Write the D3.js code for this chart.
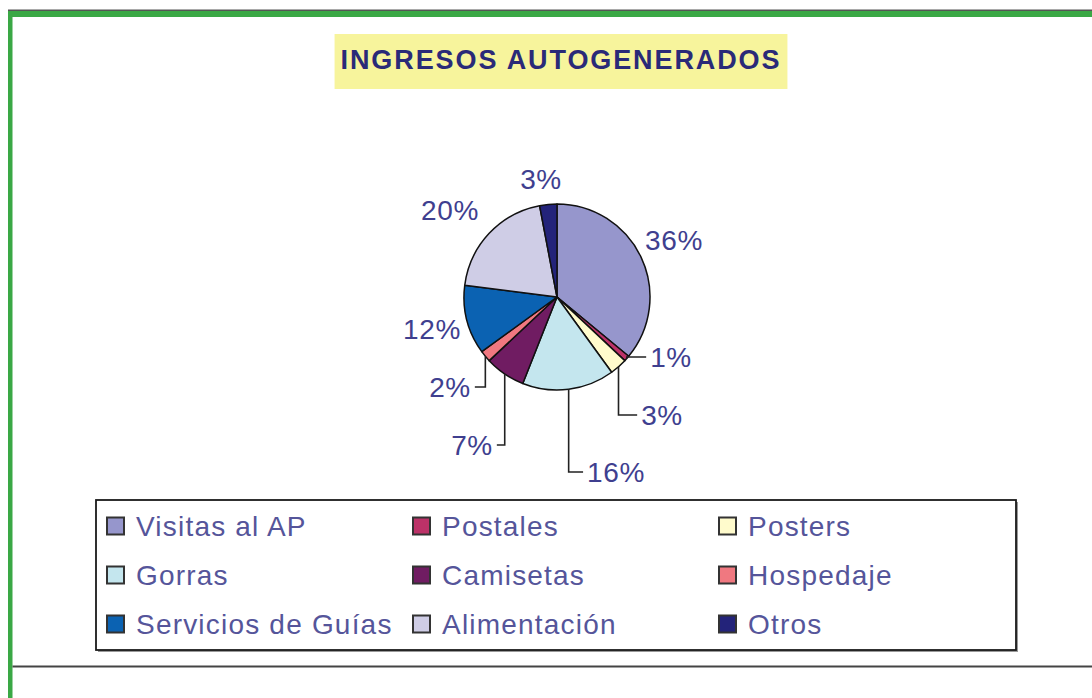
<!DOCTYPE html>
<html>
<head>
<meta charset="utf-8">
<script src="https://cdn.jsdelivr.net/npm/d3@7/dist/d3.min.js"></script>
<style>
  html, body { margin: 0; padding: 0; background: #fff; }
  svg { display: block; font-family: Arial, 'Liberation Sans', sans-serif; }
</style>
</head>
<body>
<div id="chart"></div>
<script>
var categories = ['Visitas al AP', 'Postales', 'Posters', 'Gorras', 'Camisetas',
  'Hospedaje', 'Servicios de Guías', 'Alimentación', 'Otros']
var shares = [36, 1, 3, 16, 7, 2, 12, 20, 3]
var colors = ['#9696cc', '#bc3268', '#fffbcc', '#c4e6ee', '#701c62',
  '#f07880', '#0b62b2', '#cfcde6', '#23237a']
var title = 'INGRESOS AUTOGENERADOS'

// where Excel left the labels, relative to the pie centre (dragged by hand)
var labelSpots = {
  'Visitas al AP': [117, -57],
  'Postales': [114, 60],
  'Posters': [105, 118],
  'Gorras': [59, 175],
  'Camisetas': [-85, 148],
  'Hospedaje': [-107, 90],
  'Servicios de Guías': [-125, 32],
  'Alimentación': [-107, -87],
  'Otros': [-16, -118]
}
var withLeader = ['Postales', 'Posters', 'Gorras', 'Camisetas', 'Hospedaje']

var width = 1092
var height = 698
var cx = 557
var cy = 297
var radius = 93
var green = '#3aa845'

init()

function init() {
  var svg = d3.select('#chart').append('svg')
    .attr('width', width)
    .attr('height', height)

  drawFrame(svg)
  drawTitle(svg)
  drawPie(svg)
  drawLegend(svg)
}

function drawFrame(svg) {
  svg.append('rect')
    .attr('x', 8).attr('y', 9.5)
    .attr('width', width - 8).attr('height', 1.5)
    .attr('fill', '#555')
  svg.append('rect')
    .attr('x', 8).attr('y', 11)
    .attr('width', width - 8).attr('height', 6)
    .attr('fill', green)
  svg.append('rect')
    .attr('x', 8).attr('y', 11)
    .attr('width', 4.5).attr('height', height - 11)
    .attr('fill', green)
  // bottom rule of the box
  svg.append('rect')
    .attr('x', 12.5).attr('y', 665.5)
    .attr('width', width - 12).attr('height', 2)
    .attr('fill', '#444')
}

function drawTitle(svg) {
  var g = svg.append('g')
  var bg = g.append('rect').attr('fill', '#f7f49c')
  var t = g.append('text')
    .attr('x', 561)
    .attr('y', 69)
    .attr('text-anchor', 'middle')
    .attr('font-size', 27)
    .attr('font-weight', 'bold')
    .attr('letter-spacing', 1.9)
    .attr('fill', '#2a2a78')
    .text(title)
  var w = t.node().getComputedTextLength()
  bg.attr('x', 561 - w / 2 - 6)
    .attr('y', 34)
    .attr('width', w + 12)
    .attr('height', 55)
}

function drawPie(svg) {
  var pie = d3.pie().sort(null).value(function(d) { return d.value })
  var arcs = pie(categories.map(function(c, i) {
    return { name: c, value: shares[i], color: colors[i] }
  }))
  var arc = d3.arc().innerRadius(0).outerRadius(radius)
  var edge = d3.arc().innerRadius(radius).outerRadius(radius)

  var g = svg.append('g').attr('transform', 'translate(' + cx + ',' + cy + ')')

  g.selectAll('path.slice')
    .data(arcs)
    .enter()
    .append('path')
    .attr('class', 'slice')
    .attr('d', arc)
    .attr('fill', function(d) { return d.data.color })
    .attr('stroke', '#111')
    .attr('stroke-width', 1.5)
    .attr('stroke-linejoin', 'round')

  var labels = g.selectAll('text.pct')
    .data(arcs)
    .enter()
    .append('text')
    .attr('class', 'pct')
    .attr('x', function(d) { return labelSpots[d.data.name][0] })
    .attr('y', function(d) { return labelSpots[d.data.name][1] })
    .attr('dy', '0.36em')
    .attr('text-anchor', 'middle')
    .attr('font-size', 28)
    .attr('letter-spacing', 0.6)
    .attr('fill', '#3f3f8f')
    .text(function(d) { return d.data.value + '%' })

  // leader lines: down from the rim, then across to the label
  labels.each(function(d) {
    if (withLeader.indexOf(d.data.name) < 0) return
    var half = this.getComputedTextLength() / 2
    var spot = labelSpots[d.data.name]
    var start = edge.centroid(d)
    var endX = spot[0] > start[0] ? spot[0] - half - 4 : spot[0] + half + 4
    var pts = [start, [start[0], spot[1]], [endX, spot[1]]]
    g.append('path')
      .attr('d', d3.line()(pts))
      .attr('fill', 'none')
      .attr('stroke', '#222')
      .attr('stroke-width', 1.6)
  })
}

function drawLegend(svg) {
  var box = { x: 96, y: 500, w: 920, h: 150 }
  var g = svg.append('g')

  g.append('rect')
    .attr('x', box.x + 2).attr('y', box.y + 2)
    .attr('width', box.w).attr('height', box.h)
    .attr('fill', '#999')
  g.append('rect')
    .attr('x', box.x).attr('y', box.y)
    .attr('width', box.w).attr('height', box.h)
    .attr('fill', '#fff')
    .attr('stroke', '#1a1a1a')
    .attr('stroke-width', 1.8)

  var col = d3.scaleBand().domain([0, 1, 2]).range([106, 1024])
  var row = d3.scalePoint().domain([0, 1, 2]).range([526, 624])

  var items = g.selectAll('g.item')
    .data(categories)
    .enter()
    .append('g')
    .attr('class', 'item')
    .attr('transform', function(d, i) {
      return 'translate(' + col(i % 3) + ',' + row(Math.floor(i / 3)) + ')'
    })

  items.append('rect')
    .attr('x', 1).attr('y', -8.5)
    .attr('width', 17).attr('height', 17)
    .attr('fill', function(d, i) { return colors[i] })
    .attr('stroke', '#333')
    .attr('stroke-width', 2)

  items.append('text')
    .attr('x', 30)
    .attr('dy', '0.36em')
    .attr('font-size', 28)
    .attr('letter-spacing', 1.2)
    .attr('fill', '#55559a')
    .text(function(d) { return d })
}
</script>
</body>
</html>
